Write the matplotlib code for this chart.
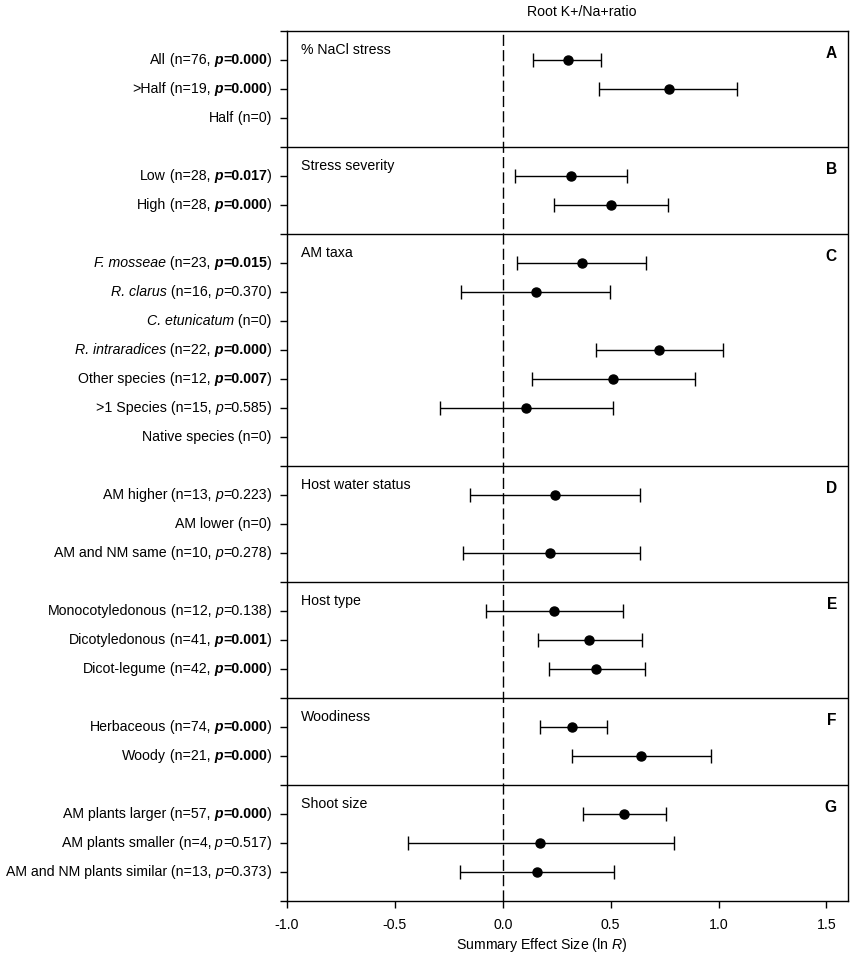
import matplotlib
matplotlib.use("Agg")
import matplotlib.pyplot as plt
import numpy as np
from matplotlib.offsetbox import TextArea, HPacker, AnnotationBbox

plt.rcParams['font.family'] = ['Liberation Sans', 'DejaVu Sans']
plt.rcParams['mathtext.fontset'] = 'custom'
plt.rcParams['mathtext.it'] = 'Liberation Sans:italic'

# ---- data ----
group_titles = ["% NaCl stress", "Stress severity", "AM taxa", "Host water status",
                "Host type", "Woodiness", "Shoot size"]
panel_letters = ["A", "B", "C", "D", "E", "F", "G"]
group_sizes = [3, 2, 7, 3, 3, 2, 3]

row_names = ["All", ">Half", "Half",
             "Low", "High",
             "F. mosseae", "R. clarus", "C. etunicatum", "R. intraradices",
             "Other species", ">1 Species", "Native species",
             "AM higher", "AM lower", "AM and NM same",
             "Monocotyledonous", "Dicotyledonous", "Dicot-legume",
             "Herbaceous", "Woody",
             "AM plants larger", "AM plants smaller", "AM and NM plants similar"]
italic_names = ["F. mosseae", "R. clarus", "C. etunicatum", "R. intraradices"]
n_counts = [76, 19, 0, 28, 28, 23, 16, 0, 22, 12, 15, 0, 13, 0, 10,
            12, 41, 42, 74, 21, 57, 4, 13]
p_values = [0.000, 0.000, None, 0.017, 0.000, 0.015, 0.370, None, 0.000, 0.007,
            0.585, None, 0.223, None, 0.278, 0.138, 0.001, 0.000, 0.000, 0.000,
            0.000, 0.517, 0.373]
effect = [0.30, 0.77, np.nan, 0.315, 0.50, 0.366, 0.154, np.nan, 0.722, 0.512,
          0.106, np.nan, 0.242, np.nan, 0.218, 0.236, 0.401, 0.433, 0.319, 0.642,
          0.562, 0.174, 0.157]
ci_low = [0.142, 0.446, np.nan, 0.057, 0.237, 0.068, -0.192, np.nan, 0.430, 0.136,
          -0.293, np.nan, -0.151, np.nan, -0.185, -0.077, 0.165, 0.214, 0.171, 0.322,
          0.373, -0.441, -0.198]
ci_high = [0.454, 1.086, np.nan, 0.577, 0.764, 0.662, 0.498, np.nan, 1.019, 0.893,
           0.509, np.nan, 0.634, np.nan, 0.634, 0.556, 0.645, 0.657, 0.481, 0.963,
           0.756, 0.792, 0.515]

FS = 10.2

# ---- row layout: each group takes (n rows + 1) units ----
ypos = []
bounds = [0]
start = 0
for size in group_sizes:
    ypos += [start + i + 1 for i in range(size)]
    start += size + 1
    bounds.append(start)
ypos = np.array(ypos, dtype=float)
effect = np.array(effect)
lo_err = effect - np.array(ci_low)
hi_err = np.array(ci_high) - effect

fig = plt.figure(figsize=(8.51, 9.57), dpi=100)
ax = fig.add_axes([287 / 851, 56 / 957, 561 / 851, 870 / 957])

ax.errorbar(effect, ypos, xerr=[lo_err, hi_err], fmt='o', color='black',
            ecolor='black', elinewidth=1.0, capsize=5, capthick=1.0,
            markersize=6.5, zorder=3)
ax.axvline(0, color='black', linewidth=1.0, dashes=(8, 3), zorder=1)

for b in bounds[1:-1]:
    ax.axhline(b, color='black', linewidth=1.0, zorder=2)

ax.set_xlim(-1.0, 1.6)
ax.set_ylim(bounds[-1], 0)
ax.set_xticks([-1.0, -0.5, 0.0, 0.5, 1.0, 1.5])
ax.set_xticklabels(["-1.0", "-0.5", "0.0", "0.5", "1.0", "1.5"], fontsize=FS)
ax.set_yticks(ypos)
ax.set_yticklabels([])
ax.set_yticks(bounds, minor=True)
ax.tick_params(axis='both', which='both', direction='out', length=5, width=1.0)
ax.tick_params(axis='x', pad=7)
for sp in ax.spines.values():
    sp.set_linewidth(1.0)

# group titles and panel letters
for k, (title, letter) in enumerate(zip(group_titles, panel_letters)):
    top = bounds[k]
    ax.annotate(title, xy=(0, top), xycoords=ax.get_yaxis_transform(),
                xytext=(10, -14), textcoords='offset points',
                ha='left', va='center', fontsize=FS)
    ax.annotate(letter, xy=(1, top), xycoords=ax.get_yaxis_transform(),
                xytext=(-8, -16), textcoords='offset points',
                ha='right', va='center', fontsize=FS + 1, fontweight='bold')

# rich y tick labels
for name, n, p, y in zip(row_names, n_counts, p_values, ypos):
    base = dict(fontsize=FS)
    pieces = [TextArea(name, textprops=dict(base, fontstyle='italic' if name in italic_names else 'normal'))]
    if n == 0:
        pieces.append(TextArea(" (n=0)", textprops=base))
    else:
        sig = p < 0.05
        w = 'bold' if sig else 'normal'
        pieces.append(TextArea(f" (n={n},", textprops=base))
        pieces.append(TextArea(" p", textprops=dict(base, fontstyle='italic', fontweight=w)))
        pieces.append(TextArea(f"={p:.3f}", textprops=dict(base, fontweight=w)))
        pieces.append(TextArea(")", textprops=base))
    pack = HPacker(children=pieces, align="baseline", pad=0, sep=0)
    ab = AnnotationBbox(pack, xy=(0, y), xycoords=ax.get_yaxis_transform(),
                        xybox=(-11, 0), boxcoords='offset points',
                        box_alignment=(1, 0.5), frameon=False, pad=0,
                        annotation_clip=False)
    ax.add_artist(ab)

fig.text(582 / 851, 1 - 12 / 957, "Root K+/Na+ratio", ha='center', va='center', fontsize=FS)
fig.text(542 / 851, 1 - 945 / 957, r"Summary Effect Size (ln $\mathit{R}$)",
         ha='center', va='center', fontsize=FS)

fig.savefig("out.png", dpi=100)
